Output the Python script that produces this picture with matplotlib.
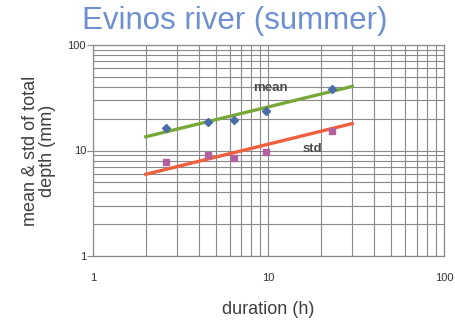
import matplotlib
matplotlib.use("Agg")
import matplotlib.pyplot as plt
from matplotlib.ticker import LogLocator, FixedLocator, NullFormatter

plt.rcParams['font.family'] = ['Liberation Sans', 'DejaVu Sans']

# Observed statistics of total storm depth per duration class
duration = [2.6, 4.5, 6.4, 9.7, 23.0]
mean_depth = [16.2, 18.6, 19.5, 23.8, 38.3]
std_depth = [7.7, 9.1, 8.5, 9.6, 15.2]

# Fitted power-law trend lines (endpoints on log-log axes)
fit_duration = [2.0, 30.0]
mean_fit = [13.5, 40.5]
std_fit = [5.95, 18.0]

fig = plt.figure(figsize=(4.56, 3.2), dpi=100)
ax = fig.add_axes([93/456, 1 - 256/320, (444-93)/456, (256-45)/320])

ax.set_xscale('log')
ax.set_yscale('log')
ax.set_xlim(1, 100)
ax.set_ylim(1, 100)

grid_c = '#8a8a8a'
ax.xaxis.set_major_locator(FixedLocator([1, 10, 100]))
ax.yaxis.set_major_locator(FixedLocator([1, 10, 100]))
ax.xaxis.set_minor_locator(LogLocator(base=10, subs=range(2, 10)))
ax.yaxis.set_minor_locator(LogLocator(base=10, subs=range(2, 10)))
ax.xaxis.set_minor_formatter(NullFormatter())
ax.yaxis.set_minor_formatter(NullFormatter())
ax.set_xticklabels(['1', '10', '100'])
ax.set_yticklabels(['1', '10', '100'])
ax.grid(True, which='both', color=grid_c, linewidth=0.8)
ax.set_axisbelow(True)
for s in ax.spines.values():
    s.set_color(grid_c)
    s.set_linewidth(0.9)
ax.tick_params(which='major', length=4, color=grid_c, labelsize=8, labelcolor='#333333')
ax.tick_params(which='minor', length=0)
ax.tick_params(axis='x', which='major', length=0, pad=12)
ax.tick_params(axis='y', which='major', pad=1)

ax.plot(fit_duration, mean_fit, color='#78a83a', linewidth=2.4, zorder=3)
ax.plot(fit_duration, std_fit, color='#f0603e', linewidth=2.4, zorder=3)
ax.plot(duration, mean_depth, linestyle='none', marker='D', markersize=4.5,
        color='#4a6ca8', zorder=4)
ax.plot(duration, std_depth, linestyle='none', marker='s', markersize=5,
        color='#b2609e', zorder=4)

ax.text(10.2, 39.0, 'mean', fontsize=9.5, fontweight='bold', color='#4a4a4a',
        ha='center', va='center')
ax.text(17.7, 10.3, 'std', fontsize=9.5, fontweight='bold', color='#4a4a4a',
        ha='center', va='center')

ax.set_xlabel('duration (h)', fontsize=13, color='#404040', labelpad=13)
ax.set_ylabel('mean & std of total\ndepth (mm)', fontsize=13, color='#404040',
              labelpad=8, linespacing=1.0)

fig.text(235/456, 1 - 21/320, 'Evinos river (summer)', fontsize=22.5,
         color='#6f90d0', ha='center', va='center')

fig.savefig('out.png', dpi=100)
